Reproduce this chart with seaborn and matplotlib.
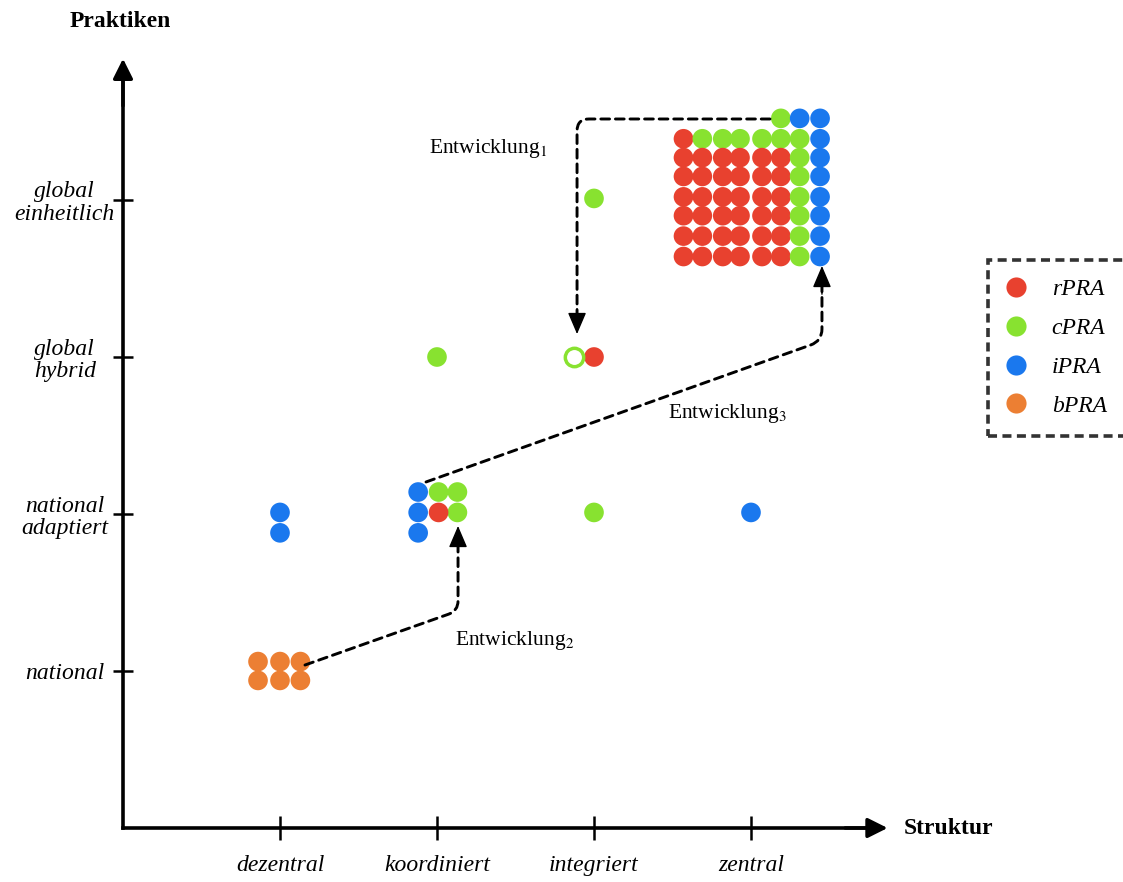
import numpy as np
import pandas as pd
import seaborn as sns
import matplotlib.pyplot as plt

sns.set_style('white')
plt.rcParams['font.family'] = ['Liberation Serif', 'DejaVu Serif']
plt.rcParams['mathtext.fontset'] = 'stix'
plt.rcParams['text.color'] = 'black'
plt.rcParams['xtick.color'] = 'black'
plt.rcParams['ytick.color'] = 'black'
plt.rcParams['axes.edgecolor'] = 'black'

x_labels = ['dezentral', 'koordiniert', 'integriert', 'zentral']
y_labels = ['national', 'national\nadaptiert', 'global\nhybrid', 'global\neinheitlich']
types = ['rPRA', 'cPRA', 'iPRA', 'bPRA']
colors = ['#E8412F', '#88E230', '#1A78EE', '#EC7F33']

# single companies outside the big block
pts_x = [1.00, 1.00, 1.88, 1.88, 1.88, 2.01, 2.13, 2.13, 2.01, 3.00, 4.00,
         2.00, 3.00, 3.00, 0.86, 1.00, 1.13, 0.86, 1.00, 1.13]
pts_y = [2.01, 1.88, 2.14, 2.01, 1.88, 2.14, 2.14, 2.01, 2.01, 2.01, 2.01,
         3.00, 3.00, 4.01, 1.06, 1.06, 1.06, 0.94, 0.94, 0.94]
pts_type = ['iPRA', 'iPRA', 'iPRA', 'iPRA', 'iPRA', 'cPRA', 'cPRA', 'cPRA', 'rPRA', 'cPRA', 'iPRA',
            'cPRA', 'rPRA', 'cPRA', 'bPRA', 'bPRA', 'bPRA', 'bPRA', 'bPRA', 'bPRA']

# former position (hollow)
old_x = [2.87]
old_y = [3.00]

# big block at zentral / global einheitlich
block_cols = [3.57, 3.69, 3.82, 3.93, 4.07, 4.19, 4.31, 4.44]
block_rows = [4.52, 4.39, 4.27, 4.15, 4.02, 3.90, 3.77, 3.64]
block_grid = [
    '-----cii',
    'rcccccci',
    'rrrrrrci',
    'rrrrrrci',
    'rrrrrrci',
    'rrrrrrci',
    'rrrrrrci',
    'rrrrrrci',
]
code = {'r': 'rPRA', 'c': 'cPRA', 'i': 'iPRA'}

rows = [dict(x=a, y=b, typ=t) for a, b, t in zip(pts_x, pts_y, pts_type)]
for yv, line in zip(block_rows, block_grid):
    for xv, ch in zip(block_cols, line):
        if ch in code:
            rows.append(dict(x=xv, y=yv, typ=code[ch]))
df = pd.DataFrame(rows)

fig = plt.figure(figsize=(11.23, 8.82), dpi=100)
ax = fig.add_axes([0, 0, 1, 1])

sns.scatterplot(data=df, x='x', y='y', hue='typ', hue_order=types,
                palette=dict(zip(types, colors)), s=200, linewidth=0, ax=ax, zorder=3)
ax.scatter(old_x, old_y, s=175, facecolors='white', edgecolors=colors[1], linewidths=2.5, zorder=3)

ax.set_xlim(-123 / 157, 1000 / 157)
ax.set_ylim(-54 / 157, 828 / 157)

for s in ['top', 'right']:
    ax.spines[s].set_visible(False)
for s in ['left', 'bottom']:
    ax.spines[s].set_position(('data', 0))
    ax.spines[s].set_bounds(0, 4.8)
    ax.spines[s].set_linewidth(2.6)

ax.set_xticks([1, 2, 3, 4])
ax.set_xticklabels(x_labels, style='italic', fontsize=17)
ax.set_yticks([1, 2, 3, 4])
ax.set_yticklabels(y_labels, style='italic', fontsize=17, linespacing=1.12)
for lbl in ax.get_yticklabels():
    lbl.set_ha('center')
    lbl.set_multialignment('center')
ax.tick_params(axis='x', bottom=True, direction='inout', length=17, width=1.8, pad=11)
ax.tick_params(axis='y', left=True, direction='inout', length=14, width=1.8, pad=35)
ax.set_xlabel('')
ax.set_ylabel('')

head = dict(arrowstyle='-|>,head_length=0.6,head_width=0.3', color='black', lw=2.5,
            mutation_scale=20, shrinkA=0, shrinkB=0)
ax.annotate('', xy=(4.87, 0), xytext=(4.6, 0), arrowprops=head, annotation_clip=False)
ax.annotate('', xy=(0, 4.90), xytext=(0, 4.6), arrowprops=head, annotation_clip=False)

ax.text(-0.02, 5.134, 'Praktiken', ha='center', va='center', fontsize=17, fontweight='bold')
ax.text(4.97, 0, 'Struktur', ha='left', va='center', fontsize=17, fontweight='bold')

# development paths: dashed line, then a solid head at the tip
dash = dict(arrowstyle='-', color='black', lw=2.1, linestyle=(0, (3, 2)),
            shrinkA=0, shrinkB=0)
small_head = dict(arrowstyle='-|>,head_length=0.75,head_width=0.32', color='black', lw=1,
                  mutation_scale=18, shrinkA=0, shrinkB=0)
paths = [
    ((4.121, 4.516), (2.892, 3.20), (2.892, 3.146), 'angle,angleA=0,angleB=90,rad=12'),
    ((1.159, 1.038), (2.134, 1.87), (2.134, 1.924), 'angle,angleA=19.5,angleB=90,rad=10'),
    ((1.930, 2.204), (4.452, 3.52), (4.452, 3.580), 'angle,angleA=19.6,angleB=90,rad=12'),
]
for start, end, tip, conn in paths:
    ax.annotate('', xy=end, xytext=start, arrowprops=dict(dash, connectionstyle=conn))
    ax.annotate('', xy=tip, xytext=(tip[0], end[1] + (end[1] - tip[1]) * 2),
                arrowprops=small_head)

ax.text(2.325, 4.33, 'Entwicklung$_1$', ha='center', va='center', fontsize=15.5)
ax.text(2.497, 1.197, 'Entwicklung$_2$', ha='center', va='center', fontsize=15.5)
ax.text(3.847, 2.643, 'Entwicklung$_3$', ha='center', va='center', fontsize=15.5)

sns.move_legend(ax, 'upper left', bbox_to_anchor=(988 / 1123, 1 - 260 / 882), title=None,
                frameon=True, fancybox=False, prop=dict(style='italic', size=17),
                handlelength=0.8, handletextpad=1.1, borderpad=0.8, labelspacing=0.73,
                borderaxespad=0)
leg = ax.get_legend()
frame = leg.get_frame()
frame.set_edgecolor('black')
frame.set_linewidth(2.6)
frame.set_linestyle((0, (2.5, 1.5)))
for h in leg.legend_handles:
    h.set_markersize(14.5)

fig.savefig('out.png', dpi=100)
